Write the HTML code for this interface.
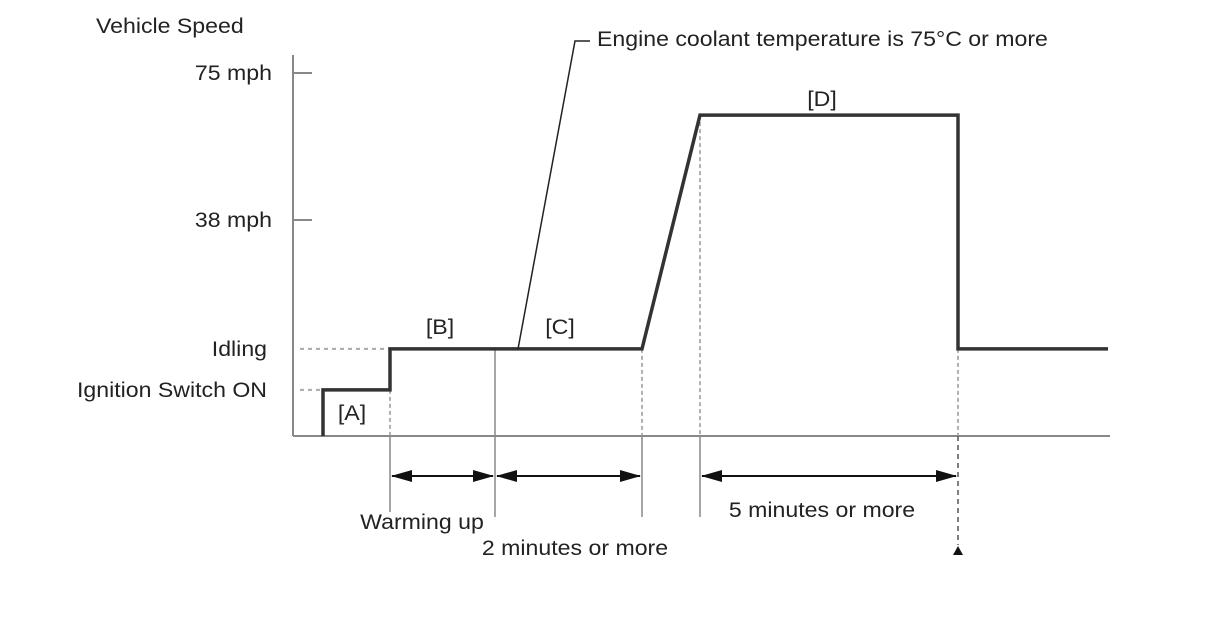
<!DOCTYPE html>
<html><head><meta charset="utf-8"><style>
html,body{margin:0;padding:0;background:#fff;}
svg{display:block;font-family:"Liberation Sans",sans-serif;}
</style></head><body>
<svg id="chart" width="1208" height="644" viewBox="0 0 1208 644">
<text x="96" y="33" font-size="21" fill="#222">Vehicle Speed</text>
<g id="axes"></g><g id="guides"></g><g id="series"></g><g id="labels"></g>
</svg>
<script>
// time in arbitrary units, level as chart units (0 = axis baseline)
const times = [30, 30, 97, 97, 349, 407, 665, 665, 815];
const levels = [0, 12.7, 12.7, 24, 24, 88.4, 88.4, 24, 24];
const tickLabels = ["75 mph", "38 mph", "Idling", "Ignition Switch ON"];
const tickValues = [100, 59.5, 24, 12.7];
const spanStart = [97, 202, 407];
const spanEnd = [202, 349, 665];
const spanLabels = ["Warming up", "2 minutes or more", "5 minutes or more"];
const phaseLabels = ["[A]", "[B]", "[C]", "[D]"];
const phaseTimes = [59, 147, 267, 529];

const X0 = 293, Y0 = 436;
const xs = t => X0 + t;
const ys = v => Y0 - v * 3.63;
const NS = "http://www.w3.org/2000/svg";
function mk(parent, tag, attrs, text) {
  const e = document.createElementNS(NS, tag);
  for (const k in attrs) e.setAttribute(k, attrs[k]);
  if (text !== undefined) e.textContent = text;
  document.getElementById(parent).appendChild(e);
  return e;
}
let e;
e = mk("axes", "line", {x1: X0, y1: 55, x2: X0, y2: Y0, stroke: "#888", "stroke-width": 2});


e = mk("axes", "line", {x1: X0, y1: Y0, x2: 1110, y2: Y0, stroke: "#888", "stroke-width": 2});


tickValues.forEach((v, i) => {
  const y = ys(v);
  if (i < 2) {
    e = mk("axes", "line", {x1: X0, y1: y, x2: X0 + 19, y2: y, stroke: "#888", "stroke-width": 2});
    
    
  }
  e = mk("axes", "text", {x: i < 2 ? 272 : 267, y: y + 7, "font-size": 21, fill: "#222", "text-anchor": "end"}, tickLabels[i]);
  
  
});
[[3, 12.7], [1, 24]].forEach(([idx, v]) => {
  e = mk("guides", "line", {x1: 300, y1: ys(v), x2: xs(times[idx === 3 ? 1 : 3]), y2: ys(v), stroke: "#aaa", "stroke-width": 2, "stroke-dasharray": "4 4"});
  
  
});
[[times[3], levels[2]], [times[4], levels[4]], [times[5], levels[5]], [times[7], levels[7]]].forEach(([t, v]) => {
  e = mk("guides", "line", {x1: xs(t), y1: ys(v), x2: xs(t), y2: Y0, stroke: "#999", "stroke-width": 1.5, "stroke-dasharray": "4 3"});
  
  
});
[[spanStart[0], Y0, 512], [spanEnd[0], ys(24), 517], [spanEnd[1], Y0, 517], [spanStart[2], Y0, 517]].forEach(([t, a, b]) => {
  e = mk("guides", "line", {x1: xs(t), y1: a, x2: xs(t), y2: b, stroke: "#888", "stroke-width": 1.5});
  
  
});
e = mk("guides", "line", {x1: xs(spanEnd[2]), y1: Y0, x2: xs(spanEnd[2]), y2: 545, stroke: "#555", "stroke-width": 1.5, "stroke-dasharray": "5 4"});


e = mk("guides", "polygon", {points: `${xs(spanEnd[2]) - 5},555 ${xs(spanEnd[2]) + 5},555 ${xs(spanEnd[2])},546`, fill: "#111"});


spanStart.forEach((s, i) => {
  const a = xs(s), b = xs(spanEnd[i]), y = 476;
  e = mk("guides", "line", {x1: a + 2, y1: y, x2: b - 2, y2: y, stroke: "#111", "stroke-width": 2});
  
  
  e = mk("guides", "polygon", {points: `${a + 1},${y} ${a + 22},${y - 6} ${a + 22},${y + 6}`, fill: "#111"});
  
  
  e = mk("guides", "polygon", {points: `${b - 1},${y} ${b - 22},${y - 6} ${b - 22},${y + 6}`, fill: "#111"});
  
  
});
const spanPos = [[422, 529], [575, 555], [822, 517]];
spanLabels.forEach((l, i) => {
  e = mk("labels", "text", {x: spanPos[i][0], y: spanPos[i][1], "font-size": 21, fill: "#222", "text-anchor": "middle"}, l);
  
  
});
e = mk("series", "polyline", {points: times.map((t, i) => xs(t) + "," + ys(levels[i])).join(" "), fill: "none", stroke: "#333", "stroke-width": 3.5});


const phaseY = [420, 334, 334, 106];
phaseLabels.forEach((l, i) => {
  e = mk("labels", "text", {x: xs(phaseTimes[i]), y: phaseY[i], "font-size": 21, fill: "#222", "text-anchor": "middle"}, l);
  
  
});
e = mk("labels", "polyline", {points: `518,349 575,41 590,41`, fill: "none", stroke: "#222", "stroke-width": 1.5});


e = mk("labels", "text", {x: 597, y: 46, "font-size": 21, fill: "#222"}, "Engine coolant temperature is 75°C or more");


// widen text to match reference glyph width
document.querySelectorAll("#chart text").forEach(t => {
  const w = t.getComputedTextLength();
  t.setAttribute("textLength", (w * 1.1).toFixed(1));
  t.setAttribute("lengthAdjust", "spacingAndGlyphs");
});
</script>
</body></html>
